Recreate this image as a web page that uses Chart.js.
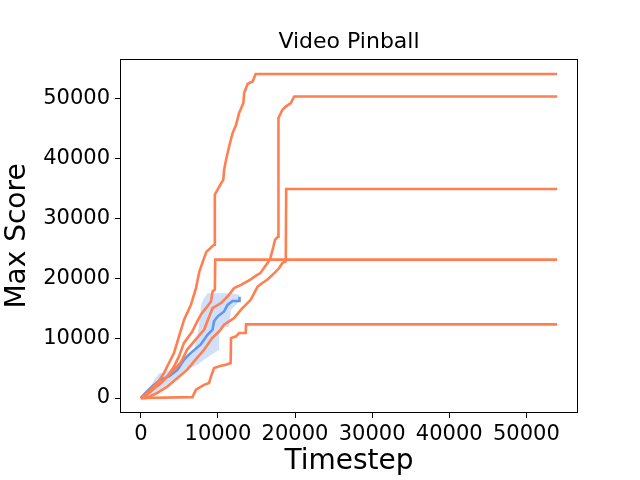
<!DOCTYPE html>
<html>
<head>
<meta charset="utf-8">
<script src="https://cdn.jsdelivr.net/npm/chart.js@4.4.1/dist/chart.umd.min.js"></script>
<style>
  html, body { margin: 0; padding: 0; background: #fff; }
  canvas { display: block; }
</style>
</head>
<body>
<canvas id="chart" width="640" height="480"></canvas>
<script>
// tick labels
const xTicks = [0, 10000, 20000, 30000, 40000, 50000];
const yTicks = [0, 10000, 20000, 30000, 40000, 50000];

// five individual runs (orange)
const runA_t = [0, 1050, 2150, 3000, 3650, 4300, 4950, 5600, 6500, 7150, 7600, 8200, 8500, 9500, 9600, 10300, 10700, 10800, 11050, 11450, 11900, 12350, 12750, 13300, 13400, 13850, 14500, 14900, 54000];
const runA_score = [0, 1100, 2500, 4150, 5850, 7500, 10300, 13050, 15550, 18350, 21150, 23350, 24400, 25600, 33950, 35600, 36450, 38100, 39750, 42000, 44200, 45600, 47600, 49250, 50900, 52450, 52850, 54100, 54100];

const runB_t = [0, 400, 1500, 2800, 3850, 5150, 6000, 7100, 8200, 9300, 10400, 11250, 12100, 13000, 14200, 14800, 15500, 16100, 16750, 17200, 17400, 17800, 17850, 18350, 18800, 19450, 19900, 54000];
const runB_score = [0, 0, 1400, 2750, 4150, 5850, 8050, 9750, 11400, 15000, 15850, 16950, 18350, 18900, 19750, 20300, 20850, 21950, 23100, 25300, 26400, 26950, 46750, 48100, 48650, 49250, 50350, 50350];

const runC_t = [0, 800, 2150, 3450, 4750, 6000, 7100, 8200, 9250, 10150, 10800, 12100, 13000, 14250, 14700, 15150, 15750, 16400, 17300, 17950, 18350, 18800, 18850, 54000];
const runC_score = [0, 0, 850, 1950, 3350, 4700, 6400, 8050, 10000, 11100, 12250, 13350, 14750, 16400, 17500, 18600, 19200, 19750, 20850, 21700, 22550, 22800, 34900, 34900];

const runD_t = [0, 200, 1250, 2350, 3450, 4300, 4950, 5600, 6650, 7300, 7850, 8450, 9100, 9300, 9600, 9650, 54000];
const runD_score = [0, 0, 1100, 2200, 3600, 5250, 6950, 9200, 11050, 12750, 14050, 15000, 16100, 17800, 18100, 23100, 23100];

const runE_t = [0, 6700, 7150, 8200, 8850, 9100, 9500, 10400, 11050, 11650, 11700, 12350, 12750, 13600, 13650, 54000];
const runE_score = [0, 150, 1400, 2200, 2500, 3600, 5000, 5400, 5550, 5850, 10000, 10300, 10850, 10850, 12300, 12300];

// mean curve (blue) and its shaded band
const mean_t = [0, 600, 1500, 2550, 3650, 4750, 5600, 6450, 7750, 8650, 9300, 9500, 9950, 10800, 11250, 11900, 12750, 12800];
const mean_score = [0, 850, 1950, 3050, 3600, 4700, 6400, 7500, 8900, 10550, 11400, 12800, 13600, 14450, 15550, 16200, 16200, 16900];

const upper_t = [0, 1300, 1750, 2400, 4100, 5200, 6900, 7350, 7600, 7800, 8200, 8650, 11700, 12800];
const upper_score = [0, 1950, 3050, 4150, 4700, 6400, 8050, 10300, 12500, 15550, 16700, 17500, 17500, 17250];

const lower_t = [0, 700, 1550, 3050, 4750, 5850, 7350, 8200, 9100, 10150, 10200, 11450, 11700, 12800];
const lower_score = [0, 150, 550, 1950, 3600, 4700, 5550, 6400, 7200, 8050, 11700, 11950, 14750, 16100];

const ORANGE = "#ff7f50";
const BLUE = "#6495ed";
const FONT = "'DejaVu Sans', sans-serif";

const pts = (ts, ys) => ts.map((t, i) => ({ x: t, y: ys[i] }));

const runLine = (ts, ys) => ({
  data: pts(ts, ys),
  borderColor: ORANGE,
  borderWidth: 2.6,
  pointRadius: 0,
  fill: false,
  tension: 0,
});

// frame around the plot area + title over its centre
const framePlugin = {
  id: "frame",
  afterDatasetsDraw(chart) {
    const { ctx, chartArea: a } = chart;
    ctx.save();
    ctx.strokeStyle = "#000";
    ctx.lineWidth = 1;
    ctx.strokeRect(a.left + 0.5, a.top + 0.5, a.right - a.left - 1, a.bottom - a.top - 1);
    ctx.restore();
  },
  afterDraw(chart) {
    const { ctx, chartArea: a } = chart;
    ctx.save();
    ctx.fillStyle = "#000";
    ctx.font = "22px " + FONT;
    ctx.textAlign = "center";
    ctx.textBaseline = "middle";
    ctx.fillText("Video Pinball", (a.left + a.right) / 2, 42);
    ctx.restore();
  },
};

new Chart(document.getElementById("chart"), {
  type: "line",
  data: {
    datasets: [
      runLine(runA_t, runA_score),
      runLine(runB_t, runB_score),
      runLine(runC_t, runC_score),
      runLine(runD_t, runD_score),
      runLine(runE_t, runE_score),
      {
        data: pts(upper_t, upper_score),
        borderWidth: 0,
        pointRadius: 0,
        backgroundColor: "rgba(100, 149, 237, 0.3)",
        fill: "+1",
      },
      {
        data: pts(lower_t, lower_score),
        borderWidth: 0,
        pointRadius: 0,
        fill: false,
      },
      {
        data: pts(mean_t, mean_score),
        borderColor: BLUE,
        borderWidth: 2.6,
        pointRadius: 0,
        fill: false,
      },
    ],
  },
  options: {
    responsive: false,
    animation: false,
    layout: { padding: { top: 59, right: 62, left: 0, bottom: 0 } },
    plugins: {
      legend: { display: false },
      tooltip: { enabled: false },
      title: { display: false },
    },
    scales: {
      x: {
        type: "linear",
        min: -2700,
        max: 56700,
        afterBuildTicks: (s) => { s.ticks = xTicks.map((v) => ({ value: v })); },
        afterFit: (s) => { s.height = 67; },
        ticks: {
          color: "#000",
          font: { family: FONT, size: 21 },
          padding: 4,
          maxRotation: 0,
          autoSkip: false,
          callback: (v) => String(v),
        },
        grid: { drawOnChartArea: false, drawTicks: true, tickLength: 5, tickColor: "#000" },
        border: { display: false },
        title: {
          display: true,
          text: "Timestep",
          color: "#000",
          font: { family: FONT, size: 28 },
          padding: { top: 0, bottom: 1 },
        },
      },
      y: {
        type: "linear",
        min: -2500,
        max: 56600,
        afterBuildTicks: (s) => { s.ticks = yTicks.map((v) => ({ value: v })); },
        afterFit: (s) => { s.width = 120; },
        ticks: {
          color: "#000",
          font: { family: FONT, size: 21 },
          padding: 5,
          autoSkip: false,
          callback: (v) => String(v),
        },
        grid: { drawOnChartArea: false, drawTicks: true, tickLength: 5, tickColor: "#000" },
        border: { display: false },
        title: {
          display: true,
          text: "Max Score",
          color: "#000",
          font: { family: FONT, size: 28 },
          padding: { top: 1, bottom: 0 },
        },
      },
    },
  },
  plugins: [framePlugin],
});
</script>
</body>
</html>
